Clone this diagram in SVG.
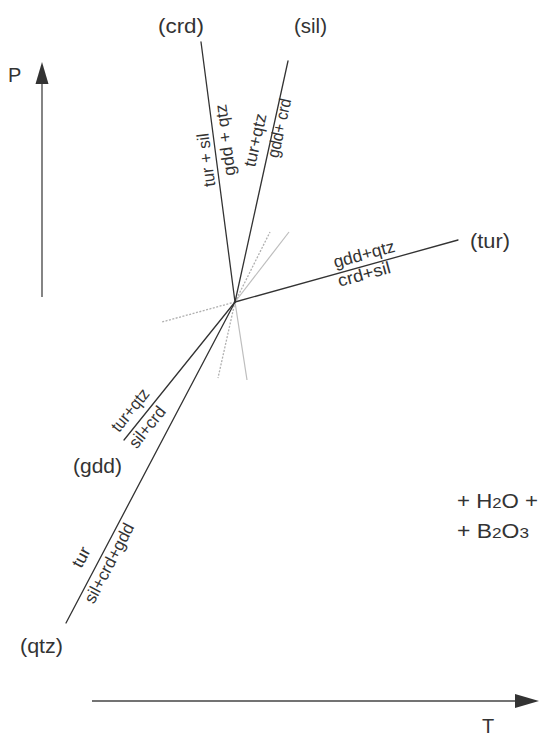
<svg xmlns="http://www.w3.org/2000/svg" width="539" height="737" viewBox="0 0 539 737">
<style>
.bg{fill:#ffffff}
.rx{stroke:#333;stroke-width:1.3;fill:none;stroke-linecap:round}
.meta{stroke:#bdbdbd;stroke-width:1.2;fill:none}
.dot{stroke:#b0b0b0;stroke-width:1.3;fill:none;stroke-dasharray:2 1.5}
.axis{stroke:#666;stroke-width:1.6;fill:none}
.head{fill:#333}
.lbl{font-family:"Liberation Sans",Arial,sans-serif;font-size:20px;fill:#333}
.rl{font-family:"Liberation Sans",Arial,sans-serif;font-size:17px;fill:#333;text-anchor:middle}
</style>
<rect class="bg" x="0" y="0" width="539" height="737"/>
<g id="axes">
  <line class="axis" x1="42" y1="297" x2="42" y2="80"/>
  <polygon class="head" points="42,62 35.5,84 48.5,84"/>
  <text class="lbl" x="8" y="82" font-size="22">P</text>
  <line class="axis" x1="92" y1="701" x2="518" y2="701" style="stroke:#444"/>
  <polygon class="head" points="539,701 515,694 515,708"/>
  <text class="lbl" x="482" y="733" font-size="21">T</text>
</g>
<g id="connectors">
  <line class="meta" x1="235" y1="302" x2="247" y2="380"/>
  <line class="dot" x1="235" y1="302" x2="218" y2="378"/>
  <line class="dot" x1="235" y1="302" x2="162" y2="322"/>
  <line class="meta" x1="235" y1="302" x2="289" y2="232"/>
  <line class="dot" x1="235" y1="302" x2="270" y2="232"/>
  <line class="rx" x1="201" y1="42" x2="235" y2="302"/>
  <line class="rx" x1="288" y1="61" x2="235" y2="302"/>
  <line class="rx" x1="235" y1="302" x2="458" y2="240"/>
  <line class="rx" x1="235" y1="302" x2="124" y2="440"/>
  <line class="rx" x1="235" y1="302" x2="66" y2="623"/>
</g>
<g id="reaction-crd">
  <text class="lbl" x="158" y="33" textLength="46" lengthAdjust="spacingAndGlyphs">(crd)</text>
  <text class="rl" transform="translate(206,160) rotate(-97.5)" dy="0.35em" textLength="54" lengthAdjust="spacingAndGlyphs">tur + sil</text>
  <text class="rl" transform="translate(225,140) rotate(-97.5)" dy="0.35em" textLength="72" lengthAdjust="spacingAndGlyphs">gdd + qtz</text>
</g>
<g id="reaction-sil">
  <text class="lbl" x="294" y="33" textLength="33" lengthAdjust="spacingAndGlyphs">(sil)</text>
  <text class="rl" transform="translate(255,140) rotate(-77.6)" dy="0.35em" textLength="54" lengthAdjust="spacingAndGlyphs">tur+qtz</text>
  <text class="rl" transform="translate(279,128) rotate(-77.6)" dy="0.35em" textLength="60" lengthAdjust="spacingAndGlyphs">gdd+ crd</text>
</g>
<g id="reaction-tur">
  <text class="lbl" x="470" y="248" textLength="40" lengthAdjust="spacingAndGlyphs">(tur)</text>
  <text class="rl" transform="translate(364,254) rotate(-15.3)" dy="0.35em" textLength="63" lengthAdjust="spacingAndGlyphs">gdd+qtz</text>
  <text class="rl" transform="translate(364,274) rotate(-15.3)" dy="0.35em" textLength="54" lengthAdjust="spacingAndGlyphs">crd+sil</text>
</g>
<g id="reaction-gdd">
  <text class="lbl" x="73" y="473" textLength="49" lengthAdjust="spacingAndGlyphs">(gdd)</text>
  <text class="rl" transform="translate(130,410) rotate(-51.4)" dy="0.35em" textLength="50" lengthAdjust="spacingAndGlyphs">tur+qtz</text>
  <text class="rl" transform="translate(147,427) rotate(-51.4)" dy="0.35em" textLength="48" lengthAdjust="spacingAndGlyphs">sil+crd</text>
</g>
<g id="reaction-qtz">
  <text class="lbl" x="20" y="653" textLength="43" lengthAdjust="spacingAndGlyphs">(qtz)</text>
  <text class="rl" transform="translate(81,557) rotate(-62.2)" dy="0.35em" textLength="21" lengthAdjust="spacingAndGlyphs">tur</text>
  <text class="rl" transform="translate(109,563) rotate(-62.2)" dy="0.35em" textLength="88" lengthAdjust="spacingAndGlyphs">sil+crd+gdd</text>
</g>
<g id="fluids">
  <text class="lbl" x="457" y="508" font-size="18" textLength="81" lengthAdjust="spacingAndGlyphs">+ H<tspan font-size="15">2</tspan>O +</text>
  <text class="lbl" x="457" y="538" font-size="18" textLength="72" lengthAdjust="spacingAndGlyphs">+ B<tspan font-size="15">2</tspan>O<tspan font-size="15">3</tspan></text>
</g>
</svg>
